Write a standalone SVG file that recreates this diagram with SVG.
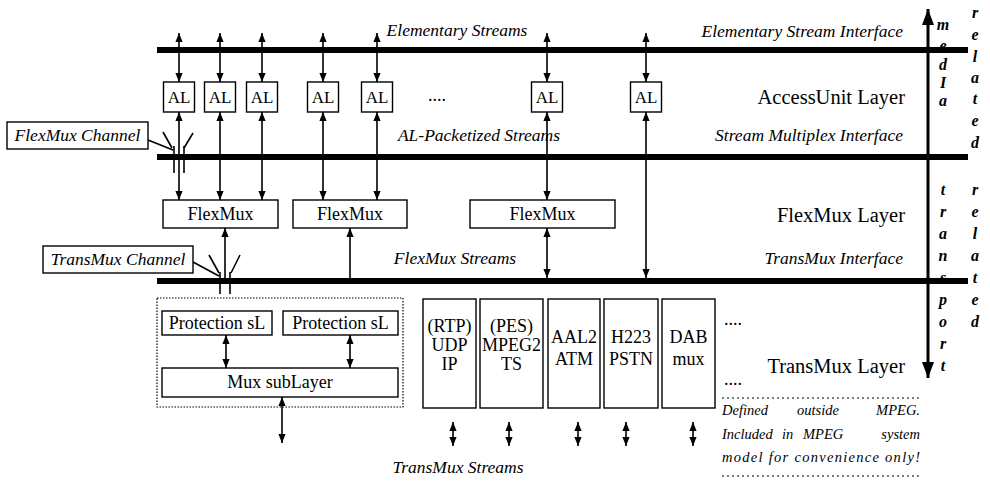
<svg xmlns="http://www.w3.org/2000/svg" width="990" height="483" viewBox="0 0 990 483" font-family="'Liberation Serif', 'Times New Roman', 'DejaVu Serif', serif">
<style>
text{font-family:'Liberation Serif','Times New Roman','DejaVu Serif',serif;fill:#000}
.box{fill:#fff;stroke:#000;stroke-width:1.4}
.dot{fill:none;stroke:#000;stroke-width:1.2;stroke-dasharray:1.5 1.5}
.bar{fill:#000}
.ln{stroke:#000;stroke-width:1.6;fill:none}
.dbl{stroke:#000;stroke-width:1.6;fill:none;marker-start:url(#ah);marker-end:url(#ah)}
.one{stroke:#000;stroke-width:1.6;fill:none;marker-end:url(#ah)}
.bt{font-size:18px;text-anchor:middle}
.al{font-size:17px;text-anchor:middle}
.it{font-size:17.5px;font-style:italic}
.lay{font-size:20.5px;text-anchor:end}
.vl{font-size:16px;font-style:italic;font-weight:bold;text-anchor:middle}
.note{font-size:14.5px;font-style:italic}
</style>
<defs>
<marker id="ah" viewBox="0 0 10 8" refX="10" refY="4" markerWidth="9" markerHeight="7.2" markerUnits="userSpaceOnUse" orient="auto-start-reverse"><path d="M0,0 L10,4 L0,8 z" fill="#000"/></marker>
<marker id="big" viewBox="0 0 16 12" refX="16" refY="6" markerWidth="16" markerHeight="12" markerUnits="userSpaceOnUse" orient="auto-start-reverse"><path d="M0,0 L16,6 L0,12 z" fill="#000"/></marker>
</defs>

<!-- vertical side words (drawn under bars) -->
<g id="side-labels">
<text class="vl"><tspan x="943" y="30">m</tspan><tspan x="943" y="51">e</tspan><tspan x="943" y="70">d</tspan><tspan x="943" y="88">I</tspan><tspan x="943" y="106">a</tspan></text>
<text class="vl"><tspan x="975" y="18">r</tspan><tspan x="975" y="40">e</tspan><tspan x="975" y="62">l</tspan><tspan x="975" y="83">a</tspan><tspan x="975" y="104">t</tspan><tspan x="975" y="126">e</tspan><tspan x="975" y="148">d</tspan></text>
<text class="vl"><tspan x="943" y="195">t</tspan><tspan x="943" y="217">r</tspan><tspan x="943" y="239">a</tspan><tspan x="943" y="261">n</tspan><tspan x="943" y="283">s</tspan><tspan x="943" y="305">p</tspan><tspan x="943" y="327">o</tspan><tspan x="943" y="349">r</tspan><tspan x="943" y="371">t</tspan></text>
<text class="vl"><tspan x="975" y="195">r</tspan><tspan x="975" y="217">e</tspan><tspan x="975" y="239">l</tspan><tspan x="975" y="261">a</tspan><tspan x="975" y="283">t</tspan><tspan x="975" y="305">e</tspan><tspan x="975" y="327">d</tspan></text>
</g>

<!-- interface bars -->
<g id="interfaces">
<rect class="bar" x="157" y="47" width="811" height="6"/>
<rect class="bar" x="157" y="154" width="811" height="6"/>
<rect class="bar" x="157" y="278" width="811" height="6"/>
</g>

<g id="connectors">
<line x1="928" y1="9" x2="928" y2="378" stroke="#000" stroke-width="3" marker-start="url(#big)" marker-end="url(#big)"/>
<line class="dbl" x1="179" y1="33" x2="179" y2="82"/>
<line class="dbl" x1="220" y1="33" x2="220" y2="82"/>
<line class="dbl" x1="262" y1="33" x2="262" y2="82"/>
<line class="dbl" x1="323" y1="33" x2="323" y2="82"/>
<line class="dbl" x1="377" y1="33" x2="377" y2="82"/>
<line class="dbl" x1="547" y1="33" x2="547" y2="82"/>
<line class="dbl" x1="646" y1="33" x2="646" y2="82"/>
<line class="dbl" x1="179" y1="112" x2="179" y2="200"/>
<line class="dbl" x1="220" y1="112" x2="220" y2="200"/>
<line class="dbl" x1="262" y1="112" x2="262" y2="200"/>
<line class="dbl" x1="323" y1="112" x2="323" y2="200"/>
<line class="dbl" x1="377" y1="112" x2="377" y2="200"/>
<line class="dbl" x1="547" y1="112" x2="547" y2="200"/>
<line class="dbl" x1="646" y1="112" x2="646" y2="278"/>
<line class="one" x1="225" y1="278" x2="225" y2="228"/>
<line class="one" x1="350" y1="278" x2="350" y2="228"/>
<line class="dbl" x1="547" y1="228" x2="547" y2="278"/>
<line class="ln" x1="148" y1="140" x2="173" y2="150"/>
<line class="ln" x1="163" y1="132" x2="172" y2="148"/>
<line class="ln" x1="193" y1="133" x2="184" y2="148"/>
<line class="ln" x1="174" y1="146" x2="174" y2="173"/>
<line class="ln" x1="184" y1="146" x2="184" y2="173"/>
<line class="ln" x1="193" y1="262" x2="219" y2="276"/>
<line class="ln" x1="209" y1="255" x2="219" y2="273"/>
<line class="ln" x1="240" y1="255" x2="231" y2="273"/>
<line class="ln" x1="220" y1="272" x2="220" y2="294"/>
<line class="ln" x1="230" y1="272" x2="230" y2="294"/>
<line class="dbl" x1="226" y1="335" x2="226" y2="368"/>
<line class="dbl" x1="350" y1="335" x2="350" y2="368"/>
<line class="dbl" x1="282" y1="397" x2="282" y2="443"/>
<line class="dbl" x1="453" y1="422" x2="453" y2="446"/>
<line class="dbl" x1="509" y1="422" x2="509" y2="446"/>
<line class="dbl" x1="578" y1="422" x2="578" y2="446"/>
<line class="dbl" x1="626" y1="422" x2="626" y2="446"/>
<line class="dbl" x1="693" y1="422" x2="693" y2="446"/>
</g>

<g id="al1"><rect class="box" x="163.5" y="82" width="31" height="30"/><text class="al" x="179" y="103">AL</text></g>
<g id="al2"><rect class="box" x="204.5" y="82" width="31" height="30"/><text class="al" x="220" y="103">AL</text></g>
<g id="al3"><rect class="box" x="246.5" y="82" width="31" height="30"/><text class="al" x="262" y="103">AL</text></g>
<g id="al4"><rect class="box" x="307.5" y="82" width="31" height="30"/><text class="al" x="323" y="103">AL</text></g>
<g id="al5"><rect class="box" x="361.5" y="82" width="31" height="30"/><text class="al" x="377" y="103">AL</text></g>
<g id="al6"><rect class="box" x="531.5" y="82" width="31" height="30"/><text class="al" x="547" y="103">AL</text></g>
<g id="al7"><rect class="box" x="630.5" y="82" width="31" height="30"/><text class="al" x="646" y="103">AL</text></g>
<g id="al-more"><text class="bt" x="437" y="101">....</text></g>

<g id="flexmux1"><rect class="box" x="163" y="200" width="115" height="28"/><text class="bt" x="220.5" y="220" font-size="18.5">FlexMux</text></g>
<g id="flexmux2"><rect class="box" x="293" y="200" width="114" height="28"/><text class="bt" x="350" y="220" font-size="18.5">FlexMux</text></g>
<g id="flexmux3"><rect class="box" x="470" y="200" width="145" height="28"/><text class="bt" x="542.5" y="220" font-size="18.5">FlexMux</text></g>

<g id="flexmux-channel"><rect class="box" x="7" y="122" width="141" height="27"/><text class="it" x="77.5" y="141" text-anchor="middle">FlexMux Channel</text></g>
<g id="transmux-channel"><rect class="box" x="43" y="246" width="150" height="27"/><text class="it" x="118" y="265" text-anchor="middle">TransMux Channel</text></g>

<g id="mux-group">
<rect class="dot" x="157" y="298" width="246" height="109"/>
<g id="prot1"><rect class="box" x="162" y="311" width="110" height="24"/><text class="bt" x="217" y="329">Protection sL</text></g>
<g id="prot2"><rect class="box" x="283" y="311" width="115" height="24"/><text class="bt" x="340.5" y="329">Protection sL</text></g>
<g id="mux-sublayer"><rect class="box" x="162" y="368" width="236" height="29"/><text class="bt" x="280" y="388">Mux subLayer</text></g>
</g>

<g id="rtp"><rect class="box" x="423" y="299" width="53" height="109"/><text class="bt"><tspan x="449.5" y="332">(RTP)</tspan><tspan x="449.5" y="351">UDP</tspan><tspan x="449.5" y="370">IP</tspan></text></g>
<g id="pes"><rect class="box" x="480" y="299" width="63" height="109"/><text class="bt"><tspan x="511.5" y="332">(PES)</tspan><tspan x="511.5" y="351">MPEG2</tspan><tspan x="511.5" y="370">TS</tspan></text></g>
<g id="aal2"><rect class="box" x="548" y="299" width="52" height="109"/><text class="bt"><tspan x="574" y="343">AAL2</tspan><tspan x="574" y="365">ATM</tspan></text></g>
<g id="h223"><rect class="box" x="604" y="299" width="54" height="109"/><text class="bt"><tspan x="631" y="343">H223</tspan><tspan x="631" y="365">PSTN</tspan></text></g>
<g id="dab"><rect class="box" x="662" y="299" width="53" height="109"/><text class="bt"><tspan x="688.5" y="343">DAB</tspan><tspan x="688.5" y="365">mux</tspan></text></g>
<g id="more-tm"><text class="bt" x="733" y="325">....</text><text class="bt" x="733" y="385">....</text></g>

<g id="labels">
<text class="it" x="457" y="36" text-anchor="middle">Elementary Streams</text>
<text class="it" x="479" y="141" text-anchor="middle">AL-Packetized Streams</text>
<text class="it" x="455" y="264" text-anchor="middle">FlexMux Streams</text>
<text class="it" x="458" y="473" text-anchor="middle">TransMux Streams</text>
<text class="it" x="903" y="37" text-anchor="end">Elementary Stream Interface</text>
<text class="it" x="903" y="141" text-anchor="end">Stream Multiplex Interface</text>
<text class="it" x="903" y="264" text-anchor="end">TransMux Interface</text>
<text class="lay" x="905" y="104">AccessUnit Layer</text>
<text class="lay" x="905" y="222">FlexMux Layer</text>
<text class="lay" x="905" y="373">TransMux Layer</text>
</g>

<g id="note">
<line x1="722" y1="398" x2="920" y2="398" stroke="#000" stroke-width="1.2" stroke-dasharray="2 3"/>
<line x1="722" y1="476" x2="920" y2="476" stroke="#000" stroke-width="1.2" stroke-dasharray="2 3"/>
<text class="note"><tspan x="722" y="415">Defined</tspan><tspan x="818" y="415" text-anchor="middle">outside</tspan><tspan x="920" y="415" text-anchor="end">MPEG.</tspan></text>
<text class="note"><tspan x="722" y="439">Included</tspan><tspan x="782" y="439">in</tspan><tspan x="803" y="439">MPEG</tspan><tspan x="920" y="439" text-anchor="end">system</tspan></text>
<text class="note" x="722" y="462" textLength="198" lengthAdjust="spacing">model for convenience only!</text>
</g>
</svg>
